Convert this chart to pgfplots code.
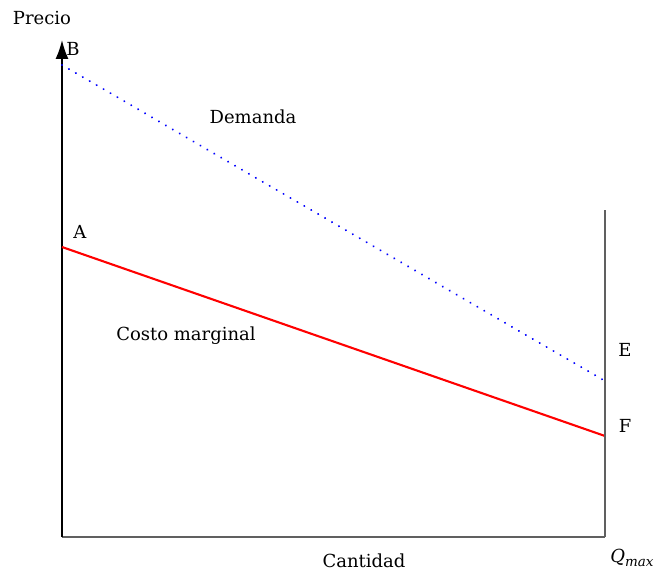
\documentclass[border=0pt]{standalone}
\usepackage{pgfplots}
\pgfplotsset{compat=1.18}
\usepackage{fontspec}
\setmainfont{DejaVu Serif}
\usetikzlibrary{arrows.meta}
\begin{document}
\begin{tikzpicture}[lbl/.style={font=\fontsize{18}{21}\selectfont}]
\useasboundingbox (-62pt,-36pt) rectangle (594pt,537pt);
\begin{axis}[
  x=1pt, y=1pt, scale only axis,
  xmin=0, xmax=543, ymin=0, ymax=497,
  axis x line=bottom, axis y line=left,
  x axis line style={-, draw=gray!75!black, line width=1.5pt},
  y axis line style={-{Latex[length=19pt,width=13pt]}, black, line width=1.6pt},
  ticks=none, clip=false,
  ]
\addplot [blue, line width=2.2pt, dash pattern=on 0.01pt off 8pt, line cap=round] coordinates {(0,472) (543,156)};
\addplot [red, line width=2.1pt] coordinates {(0,290) (543,101)};
\addplot [gray!75!black, line width=1.1pt] coordinates {(543,0) (543,327)};
\node[lbl] at (axis cs:-20,519) {Precio};
\node[lbl] at (axis cs:11,488) {B};
\node[lbl] at (axis cs:191,420) {Demanda};
\node[lbl] at (axis cs:18,305) {A};
\node[lbl] at (axis cs:124,201) {Costo marginal};
\node[lbl] at (axis cs:563,187) {E};
\node[lbl] at (axis cs:563,111) {F};
\node[lbl] at (axis cs:302,-24) {Cantidad};
\node[lbl] at (axis cs:570,-21) {\textit{Q}\raisebox{-0.35ex}{\itshape\fontsize{13.5}{15}\selectfont max}};
\end{axis}
\end{tikzpicture}
\end{document}
